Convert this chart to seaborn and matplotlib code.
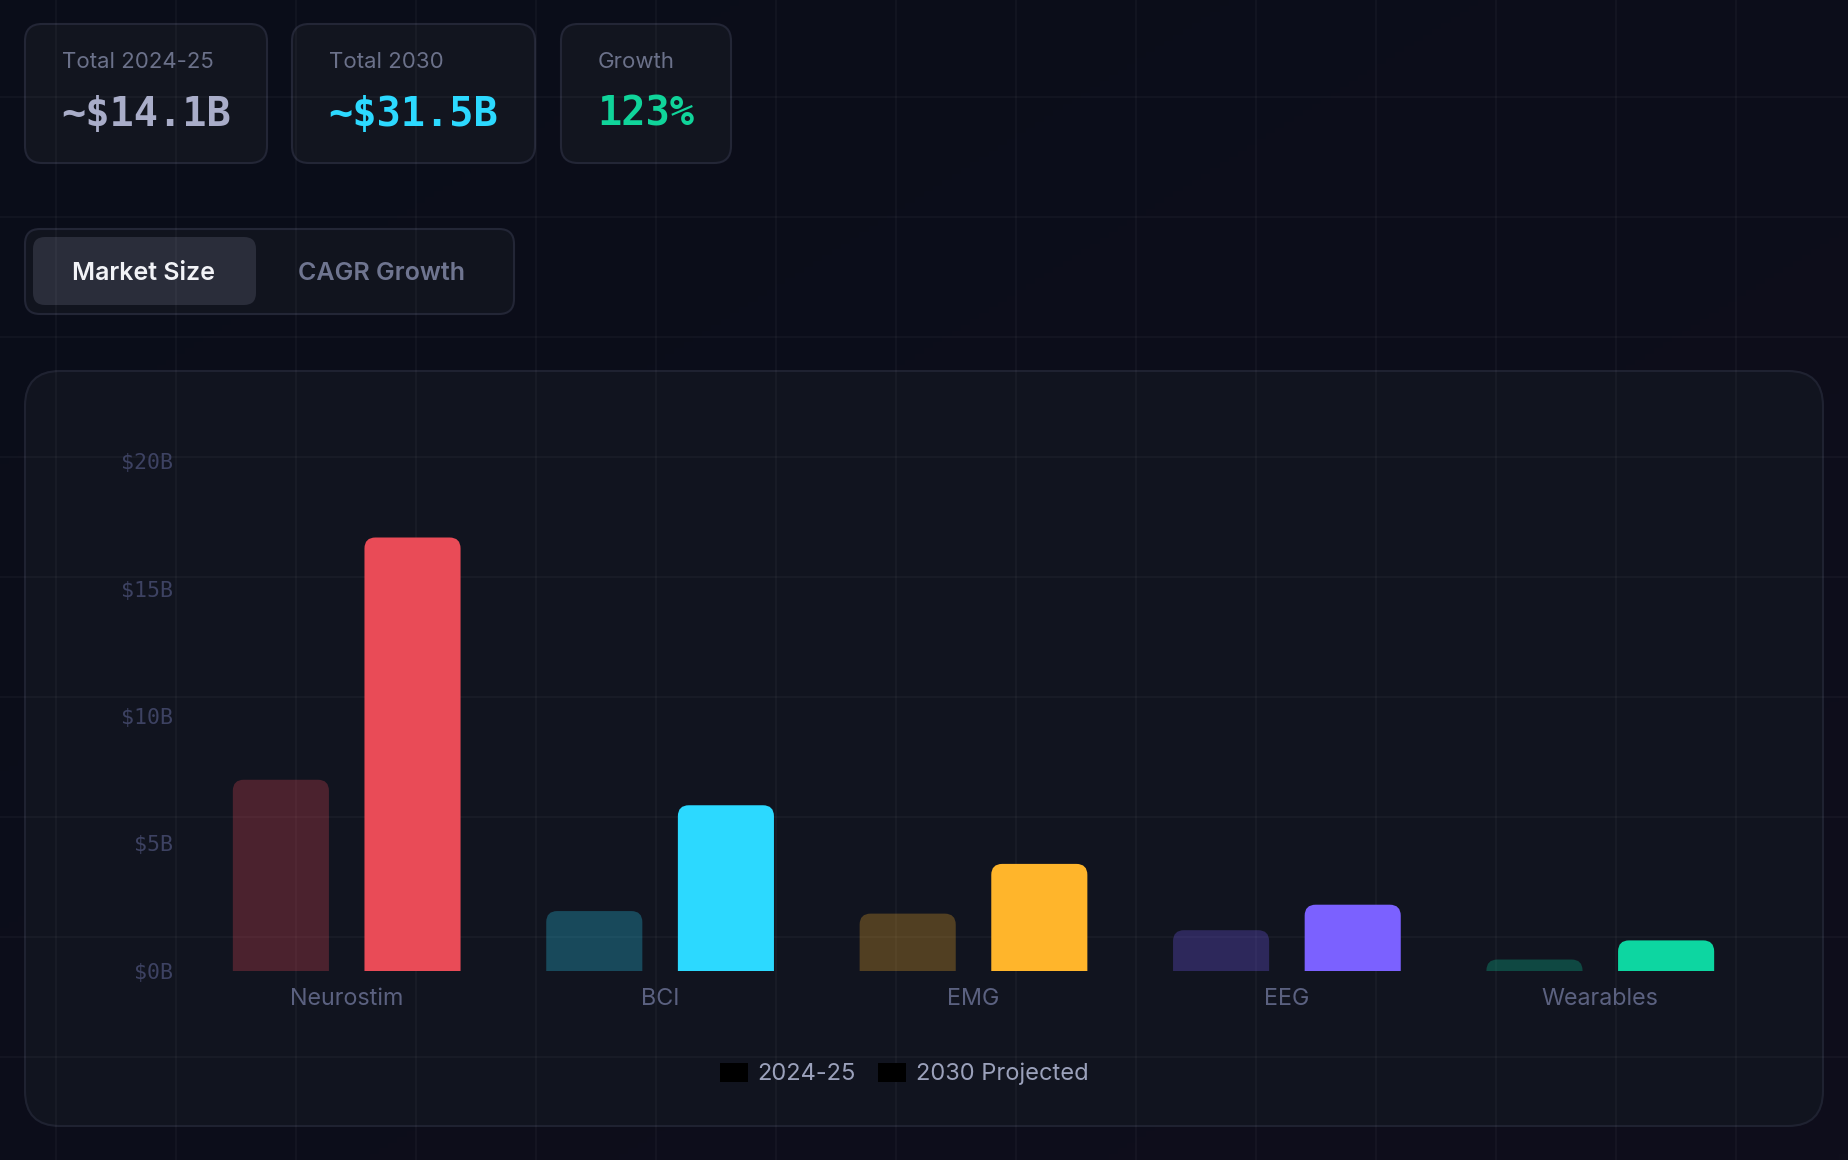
import numpy as np
import pandas as pd
import matplotlib
matplotlib.use("Agg")
import matplotlib.pyplot as plt
import seaborn as sns
from matplotlib.patches import FancyBboxPatch, PathPatch, Rectangle
from matplotlib.path import Path

# ---------------- data ----------------
categories = ["Neurostim", "BCI", "EMG", "EEG", "Wearables"]
values_2024 = [7.5, 2.35, 2.25, 1.6, 0.45]
values_2030 = [17.0, 6.5, 4.2, 2.6, 1.2]
period_labels = ["2024-25", "2030 Projected"]
bar_colors = ["#e94b57", "#2cd9ff", "#ffb52b", "#7b61ff", "#0dd6a1"]
y_ticks = [0, 5, 10, 15, 20]
y_tick_labels = ["$0B", "$5B", "$10B", "$15B", "$20B"]
stat_labels = ["Total 2024-25", "Total 2030", "Growth"]
stat_values = ["~$14.1B", "~$31.5B", "123%"]
stat_colors = ["#a9adc9", "#2cd9ff", "#10d49a"]
toggle_labels = ["Market Size", "CAGR Growth"]

df = pd.DataFrame({
    "category": categories * 2,
    "value": values_2024 + values_2030,
    "period": [period_labels[0]] * len(categories) + [period_labels[1]] * len(categories),
})

# ---------------- figure ----------------
W, H = 1848, 1160
sns.set_theme(style="dark")
plt.rcParams["font.family"] = ["Inter", "DejaVu Sans"]
SANS = ["Inter", "DejaVu Sans"]
MONO = ["DejaVu Sans Mono"]

fig = plt.figure(figsize=(W / 100, H / 100), dpi=100)
fig.patch.set_facecolor("#0a0d19")

bg = fig.add_axes([0, 0, 1, 1])
bg.axis("off")
bg.set_facecolor("none")

# subtle page gradient
grad = np.linspace(0, 1, 200)
gx, gy = np.meshgrid(grad, grad)
g = (gx + gy) / 2
c0 = np.array([0x0a, 0x0d, 0x19]) / 255
c1 = np.array([0x0f, 0x0e, 0x1c]) / 255
img = c0[None, None, :] * (1 - g[..., None]) + c1[None, None, :] * g[..., None]
bg.imshow(img, extent=[0, W, H, 0], zorder=0, aspect="auto")
bg.set_xlim(0, W)
bg.set_ylim(H, 0)


def rbox(x0, y0, x1, y1, r, fc, ec, lw=1.5, z=1):
    p = FancyBboxPatch((x0, y0), x1 - x0, y1 - y0,
                       boxstyle=f"round,pad=0,rounding_size={r}",
                       fc=fc, ec=ec, lw=lw, zorder=z)
    bg.add_patch(p)


# stat cards
cards = [(25, 267), (292, 535), (561, 731)]
for (x0, x1), lab, val, col in zip(cards, stat_labels, stat_values, stat_colors):
    rbox(x0, 24, x1, 163, 17, "#12151f", "#232636")
    bg.text(x0 + 37, 62, lab, color="#6b718a", fontsize=16, family=SANS,
            va="center", ha="left", zorder=5)
    bg.text(x0 + 36, 114, val, color=col, fontsize=29, family=MONO,
            fontweight="bold", va="center", ha="left", zorder=5)

# toggle
rbox(25, 229, 514, 314, 15, "#11141e", "#232636")
rbox(33, 237, 256, 305, 12, "#2a2d3a", "none", lw=0, z=2)
bg.text(144, 273, toggle_labels[0], color="#f2f3f7", fontsize=18, family=SANS,
        fontweight="semibold", ha="center", va="center", zorder=5)
bg.text(381, 273, toggle_labels[1], color="#6f7590", fontsize=18, family=SANS,
        fontweight="semibold", ha="center", va="center", zorder=5)

# chart panel
rbox(25, 371, 1823, 1126, 35, "#11141f", "#1f2231")

# background grid
for gxp in np.arange(55.7, W, 120):
    bg.plot([gxp, gxp], [0, H], color="#ffffff", alpha=0.035, lw=1.3, zorder=3)
for gyp in np.arange(97, H, 120):
    bg.plot([0, W], [gyp, gyp], color="#ffffff", alpha=0.035, lw=1.3, zorder=3)

# ---------------- chart ----------------
ax_l, ax_r, ax_t, ax_b = 190, 1757, 461, 971
ax = fig.add_axes([ax_l / W, 1 - ax_b / H, (ax_r - ax_l) / W, (ax_b - ax_t) / H])
ax.set_facecolor("none")
sns.barplot(data=df, x="category", y="value", hue="period", order=categories,
            hue_order=period_labels, width=0.84, gap=0.27, ax=ax, legend=False,
            errorbar=None)
ax.set_xlim(-0.5, len(categories) - 0.5)
ax.set_ylim(0, 20)
ax.grid(False)
for s in ax.spines.values():
    s.set_visible(False)

ppx = (ax_r - ax_l) / len(categories)
ppy = (ax_b - ax_t) / 20.0
radius = 11
for p in list(ax.patches):
    if not isinstance(p, Rectangle):
        continue
    x0 = p.get_x()
    w = p.get_width()
    h = p.get_height()
    if w <= 0 or h <= 0:
        continue
    cx = x0 + w / 2
    i = int(round(cx))
    later = cx > i
    col = bar_colors[i]
    alpha = 1.0 if later else 0.27
    x1 = x0 + w
    rx = radius / ppx
    ry = min(radius / ppy, h)
    verts = [(x0, 0), (x0, h - ry), (x0, h), (x0 + rx, h), (x1 - rx, h),
             (x1, h), (x1, h - ry), (x1, 0), (x0, 0)]
    codes = [Path.MOVETO, Path.LINETO, Path.CURVE3, Path.CURVE3, Path.LINETO,
             Path.CURVE3, Path.CURVE3, Path.LINETO, Path.CLOSEPOLY]
    pp = PathPatch(Path(verts, codes), fc=col, alpha=alpha, lw=0, zorder=3)
    ax.add_patch(pp)
    p.set_visible(False)

ax.set_yticks(y_ticks)
ax.set_yticklabels(y_tick_labels)
ax.set_xlabel("")
ax.set_ylabel("")
ax.tick_params(axis="y", length=0, pad=12, labelcolor="#3d4262", labelsize=15.5)
ax.tick_params(axis="x", length=0, pad=12.5, labelcolor="#5b6180", labelsize=16.8)
for t in ax.get_yticklabels():
    t.set_family(MONO)
for t in ax.get_xticklabels():
    t.set_family(SANS)

handles = [Rectangle((0, 0), 1, 1, fc="#000000", ec="none") for _ in period_labels]
leg = fig.legend(handles, period_labels, loc="center",
                 bbox_to_anchor=(904 / W, 1 - 1074 / H), ncol=2, frameon=False,
                 handlelength=1.2, handleheight=0.9, handletextpad=0.4,
                 columnspacing=0.95, prop={"family": SANS, "size": 17})
for t in leg.get_texts():
    t.set_color("#9ba1bb")

fig.savefig("out.png", dpi=100, facecolor=fig.get_facecolor())
